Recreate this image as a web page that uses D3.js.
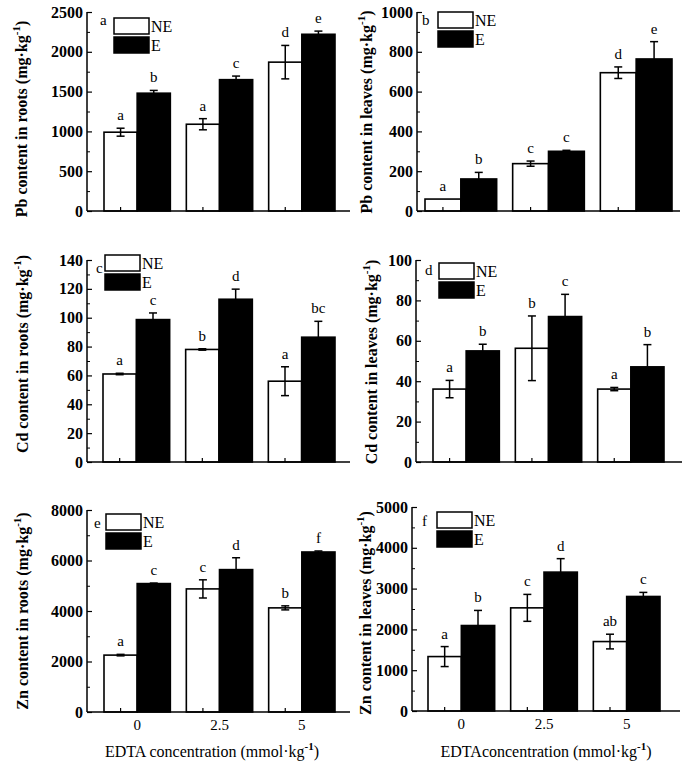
<!DOCTYPE html>
<html><head><meta charset="utf-8">
<script src="https://cdn.jsdelivr.net/npm/d3@7"></script>
<style>
html,body{margin:0;padding:0;background:#fff;}
svg{display:block;}
</style></head>
<body>
<svg id="chart" width="685" height="776"></svg>
<script>
// ---------- DATA ----------
const categories = ["0", "2.5", "5"];
const seriesNames = ["NE", "E"];

const pbRootsNE = [990, 1090, 1870];
const pbRootsNEErr = [50, 70, 210];
const pbRootsE = [1480, 1650, 2220];
const pbRootsEErr = [35, 45, 40];
const pbRootsNELetters = ["a", "a", "d"];
const pbRootsELetters = ["b", "c", "e"];
const pbRootsTicks = [0, 500, 1000, 1500, 2000, 2500];

const pbLeavesNE = [60, 238, 695];
const pbLeavesNEErr = [0, 13, 29];
const pbLeavesE = [161, 300, 764];
const pbLeavesEErr = [33, 5, 87];
const pbLeavesNELetters = ["a", "c", "d"];
const pbLeavesELetters = ["b", "c", "e"];
const pbLeavesTicks = [0, 200, 400, 600, 800, 1000];

const cdRootsNE = [61, 78, 56];
const cdRootsNEErr = [0.5, 0.5, 10];
const cdRootsE = [98.7, 112.8, 86.5];
const cdRootsEErr = [4.6, 7, 11];
const cdRootsNELetters = ["a", "b", "a"];
const cdRootsELetters = ["c", "d", "bc"];
const cdRootsTicks = [0, 20, 40, 60, 80, 100, 120, 140];

const cdLeavesNE = [36.1, 56.3, 36.1];
const cdLeavesNEErr = [4.3, 16, 0.8];
const cdLeavesE = [55, 72, 47.1];
const cdLeavesEErr = [3.3, 11, 11];
const cdLeavesNELetters = ["a", "b", "a"];
const cdLeavesELetters = ["b", "c", "b"];
const cdLeavesTicks = [0, 20, 40, 60, 80, 100];

const znRootsNE = [2253, 4875, 4124];
const znRootsNEErr = [30, 360, 80];
const znRootsE = [5086, 5639, 6337];
const znRootsEErr = [20, 470, 40];
const znRootsNELetters = ["a", "c", "b"];
const znRootsELetters = ["c", "d", "f"];
const znRootsTicks = [0, 2000, 4000, 6000, 8000];

const znLeavesNE = [1334, 2528, 1702];
const znLeavesNEErr = [245, 330, 180];
const znLeavesE = [2095, 3404, 2807];
const znLeavesEErr = [370, 330, 100];
const znLeavesNELetters = ["a", "c", "ab"];
const znLeavesELetters = ["b", "d", "c"];
const znLeavesTicks = [0, 1000, 2000, 3000, 4000, 5000];

const panelLetters = ["a", "b", "c", "d", "e", "f"];
const yLabels = [
  ["Pb content in roots (mg·kg", ")"],
  ["Pb content in leaves (mg·kg", ")"],
  ["Cd content in roots (mg·kg", ")"],
  ["Cd content in leaves (mg·kg", ")"],
  ["Zn content in roots (mg·kg", ")"],
  ["Zn content in leaves (mg·kg", ")"]
];
const xLabels = ["EDTA concentration (mmol·kg", "EDTAconcentration (mmol·kg"];

// ---------- LAYOUT ----------
const layout = [
  {ax: 87,  y0: 211, yTop: 12,  bs: 104, be: 335, end: 350, lx: 100, ly: 25,  gx: 114, gy: 18,  tx: 27,  ty: 119},
  {ax: 417, y0: 211, yTop: 12,  bs: 425, be: 672, end: 680, lx: 422, ly: 25,  gx: 438, gy: 12,  tx: 372, ty: 112},
  {ax: 87,  y0: 462, yTop: 260, bs: 103, be: 335, end: 350, lx: 96,  ly: 273, gx: 105, gy: 255, tx: 28,  ty: 354},
  {ax: 416, y0: 462, yTop: 260, bs: 433, be: 664, end: 682, lx: 425, ly: 275, gx: 439, gy: 263, tx: 377, ty: 362},
  {ax: 87,  y0: 712, yTop: 510, bs: 104, be: 335, end: 350, lx: 94,  ly: 528, gx: 106, gy: 514, tx: 28,  ty: 611},
  {ax: 412, y0: 711, yTop: 507, bs: 428, be: 660, end: 680, lx: 422, ly: 526, gx: 437, gy: 512, tx: 371, ty: 613}
];

const panelsData = [
  {ne: pbRootsNE, neErr: pbRootsNEErr, e: pbRootsE, eErr: pbRootsEErr, neL: pbRootsNELetters, eL: pbRootsELetters, ticks: pbRootsTicks},
  {ne: pbLeavesNE, neErr: pbLeavesNEErr, e: pbLeavesE, eErr: pbLeavesEErr, neL: pbLeavesNELetters, eL: pbLeavesELetters, ticks: pbLeavesTicks},
  {ne: cdRootsNE, neErr: cdRootsNEErr, e: cdRootsE, eErr: cdRootsEErr, neL: cdRootsNELetters, eL: cdRootsELetters, ticks: cdRootsTicks},
  {ne: cdLeavesNE, neErr: cdLeavesNEErr, e: cdLeavesE, eErr: cdLeavesEErr, neL: cdLeavesNELetters, eL: cdLeavesELetters, ticks: cdLeavesTicks},
  {ne: znRootsNE, neErr: znRootsNEErr, e: znRootsE, eErr: znRootsEErr, neL: znRootsNELetters, eL: znRootsELetters, ticks: znRootsTicks},
  {ne: znLeavesNE, neErr: znLeavesNEErr, e: znLeavesE, eErr: znLeavesEErr, neL: znLeavesNELetters, eL: znLeavesELetters, ticks: znLeavesTicks}
];

const SERIF = "'Liberation Serif','Times New Roman',serif";
const svg = d3.select("#chart");
const GAP = 16;

panelsData.forEach((pd, i) => {
  const L = layout[i];
  const g = svg.append("g");
  const ticks = pd.ticks;
  const yMax = ticks[ticks.length - 1];
  const y = d3.scaleLinear().domain([0, yMax]).range([L.y0, L.yTop]);
  const step = (L.be - L.bs + GAP) / categories.length;
  const p = GAP / step;
  const x = d3.scaleBand().domain(categories)
    .range([L.bs - GAP / 2, L.be + GAP / 2])
    .paddingInner(p).paddingOuter(p / 2);
  const xs = d3.scaleBand().domain(seriesNames).range([0, x.bandwidth()]);

  const rows = categories.map((c, k) => ([
    {cat: c, s: "NE", v: pd.ne[k], err: pd.neErr[k], lab: pd.neL[k]},
    {cat: c, s: "E", v: pd.e[k], err: pd.eErr[k], lab: pd.eL[k]}
  ])).flat();

  // bars
  g.selectAll("rect.bar").data(rows).join("rect")
    .attr("class", "bar")
    .attr("x", d => x(d.cat) + xs(d.s))
    .attr("y", d => y(d.v))
    .attr("width", xs.bandwidth())
    .attr("height", d => L.y0 - y(d.v))
    .attr("fill", d => d.s === "NE" ? "#fff" : "#000")
    .attr("stroke", "#000").attr("stroke-width", 1.6);

  // error bars
  const eg = g.selectAll("g.err").data(rows.filter(d => d.err > 0)).join("g").attr("class", "err");
  const cx = d => x(d.cat) + xs(d.s) + xs.bandwidth() / 2;
  eg.append("line")
    .attr("x1", cx).attr("x2", cx)
    .attr("y1", d => y(d.v - d.err)).attr("y2", d => y(d.v + d.err))
    .attr("stroke", "#000").attr("stroke-width", 1.5);
  eg.append("line")
    .attr("x1", d => cx(d) - 4).attr("x2", d => cx(d) + 4)
    .attr("y1", d => y(d.v + d.err)).attr("y2", d => y(d.v + d.err))
    .attr("stroke", "#000").attr("stroke-width", 1.5);
  eg.filter(d => d.s === "NE").append("line")
    .attr("x1", d => cx(d) - 4).attr("x2", d => cx(d) + 4)
    .attr("y1", d => y(d.v - d.err)).attr("y2", d => y(d.v - d.err))
    .attr("stroke", "#000").attr("stroke-width", 1.5);

  // significance letters
  g.selectAll("text.sig").data(rows).join("text")
    .attr("class", "sig")
    .attr("x", cx)
    .attr("y", d => y(d.v + d.err) - 8)
    .attr("text-anchor", "middle")
    .attr("font-family", SERIF).attr("font-size", 15)
    .text(d => d.lab);

  // y axis
  const yAxis = d3.axisRight(y).tickValues(ticks).tickSize(5).tickFormat("");
  const ya = g.append("g").attr("transform", `translate(${L.ax},0)`).call(yAxis);
  ya.select(".domain").remove();
  ya.selectAll("line").attr("stroke", "#000").attr("stroke-width", 1.2);
  const minor = d3.range(1, ticks.length).map(k => (ticks[k] + ticks[k - 1]) / 2);
  const yMinor = d3.axisRight(y).tickValues(minor).tickSize(3).tickFormat("");
  const ym = g.append("g").attr("transform", `translate(${L.ax},0)`).call(yMinor);
  ym.select(".domain").remove();
  ym.selectAll("line").attr("stroke", "#000").attr("stroke-width", 1);
  g.append("line").attr("x1", L.ax).attr("x2", L.ax).attr("y1", L.y0).attr("y2", L.yTop)
    .attr("stroke", "#000").attr("stroke-width", 1.5);
  g.selectAll("text.ytick").data(ticks).join("text")
    .attr("class", "ytick")
    .attr("x", L.ax - 4).attr("y", d => y(d) + 5.5)
    .attr("text-anchor", "end")
    .attr("font-family", SERIF).attr("font-weight", "bold").attr("font-size", 16)
    .text(d => d);

  // x axis
  g.append("line").attr("x1", L.ax).attr("x2", L.end).attr("y1", L.y0).attr("y2", L.y0)
    .attr("stroke", "#000").attr("stroke-width", 1.5);
  g.selectAll("line.xtick").data(categories).join("line")
    .attr("class", "xtick")
    .attr("x1", c => x(c) + xs("NE") + xs.bandwidth() / 2)
    .attr("x2", c => x(c) + xs("NE") + xs.bandwidth() / 2)
    .attr("y1", L.y0).attr("y2", L.y0 - 4)
    .attr("stroke", "#000").attr("stroke-width", 1.2);
  if (i >= 4) {
    g.selectAll("text.xtick").data(categories).join("text")
      .attr("class", "xtick")
      .attr("x", c => x(c) + x.bandwidth() / 2)
      .attr("y", L.y0 + 18)
      .attr("text-anchor", "middle")
      .attr("font-family", SERIF).attr("font-size", 15)
      .text(c => c);
    const xl = g.append("text")
      .attr("x", i === 4 ? 212 : 546).attr("y", 757)
      .attr("text-anchor", "middle")
      .attr("font-family", SERIF).attr("font-size", 16);
    xl.append("tspan").text(xLabels[i - 4]);
    xl.append("tspan").attr("dy", -7).attr("font-size", 11).attr("font-weight", "bold").text("-1");
    xl.append("tspan").attr("dy", 7).text(")");
  }

  // y label
  const yl = g.append("text")
    .attr("transform", `translate(${L.tx},${L.ty}) rotate(-90)`)
    .attr("text-anchor", "middle")
    .attr("font-family", SERIF).attr("font-weight", "bold").attr("font-size", 16);
  yl.append("tspan").text(yLabels[i][0]);
  yl.append("tspan").attr("dy", -7).attr("font-size", 11).text("-1");
  yl.append("tspan").attr("dy", 7).text(yLabels[i][1]);

  // panel letter
  g.append("text").attr("x", L.lx).attr("y", L.ly)
    .attr("font-family", SERIF).attr("font-size", 15).text(panelLetters[i]);

  // legend
  seriesNames.forEach((s, k) => {
    const by = L.gy + k * 19;
    g.append("rect").attr("x", L.gx).attr("y", by).attr("width", 35).attr("height", 16)
      .attr("fill", s === "NE" ? "#fff" : "#000").attr("stroke", "#000").attr("stroke-width", 1.5);
    g.append("text").attr("x", L.gx + 37).attr("y", by + 14)
      .attr("font-family", SERIF).attr("font-size", 16).text(s);
  });
});
</script>
</body></html>
